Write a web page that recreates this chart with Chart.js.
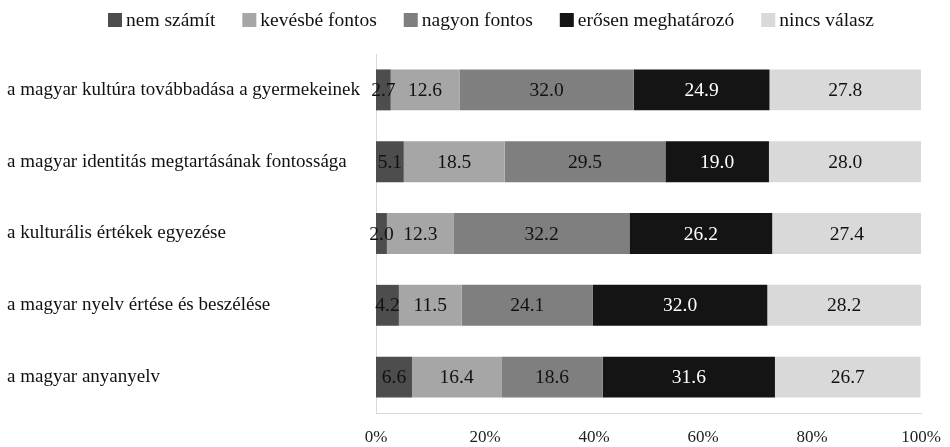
<!DOCTYPE html>
<html>
<head>
<meta charset="utf-8">
<script src="https://cdn.jsdelivr.net/npm/chart.js@4/dist/chart.umd.min.js"></script>
<style>
  html, body { margin: 0; padding: 0; background: #ffffff; }
  #wrap { width: 950px; height: 447px; position: relative; }
</style>
</head>
<body>
<div id="wrap"><canvas id="chart"></canvas></div>
<script>
const categories = [
  'a magyar kultúra továbbadása a gyermekeinek',
  'a magyar identitás megtartásának fontossága',
  'a kulturális értékek egyezése',
  'a magyar nyelv értése és beszélése',
  'a magyar anyanyelv'
];
const seriesNames = ['nem számít', 'kevésbé fontos', 'nagyon fontos', 'erősen meghatározó', 'nincs válasz'];
const nemSzamit = [2.7, 5.1, 2.0, 4.2, 6.6];
const kevesbeFontos = [12.6, 18.5, 12.3, 11.5, 16.4];
const nagyonFontos = [32.0, 29.5, 32.2, 24.1, 18.6];
const erosenMeghatarozo = [24.9, 19.0, 26.2, 32.0, 31.6];
const nincsValasz = [27.8, 28.0, 27.4, 28.2, 26.7];
const xTicks = [0, 20, 40, 60, 80, 100];

const colors = ['#4d4d4d', '#a6a6a6', '#7f7f7f', '#141414', '#d9d9d9'];
const labelColors = ['#111111', '#111111', '#111111', '#ffffff', '#111111'];
const serif = '"Liberation Serif", "DejaVu Serif", serif';

const seriesValues = [nemSzamit, kevesbeFontos, nagyonFontos, erosenMeghatarozo, nincsValasz];

// values written in the middle of each segment
const segmentLabels = {
  id: 'segmentLabels',
  afterDatasetsDraw(chart) {
    const ctx = chart.ctx;
    ctx.save();
    ctx.font = '19.5px ' + serif;
    ctx.textAlign = 'center';
    ctx.textBaseline = 'middle';
    chart.data.datasets.forEach((ds, i) => {
      const meta = chart.getDatasetMeta(i);
      meta.data.forEach((bar, j) => {
        const p = bar.getProps(['x', 'y', 'base'], true);
        ctx.fillStyle = labelColors[i];
        ctx.fillText(ds.data[j].toFixed(1), (p.x + p.base) / 2, p.y + 1);
      });
    });
    ctx.restore();
  }
};

// legend row across the top
const topLegend = {
  id: 'topLegend',
  afterDraw(chart) {
    const ctx = chart.ctx;
    const box = 14, gap = 4, itemGap = 27, cy = 20;
    ctx.save();
    ctx.font = '19.5px ' + serif;
    ctx.textBaseline = 'middle';
    const items = chart.data.datasets.map(ds => ({
      text: ds.label,
      color: ds.backgroundColor,
      w: ctx.measureText(ds.label).width
    }));
    const total = items.reduce((s, it) => s + box + gap + it.w, 0) + itemGap * (items.length - 1);
    let x = 491 - total / 2;
    items.forEach(it => {
      ctx.fillStyle = it.color;
      ctx.fillRect(x, cy - box / 2, box, box);
      ctx.fillStyle = '#111111';
      ctx.fillText(it.text, x + box + gap, cy + 1);
      x += box + gap + it.w + itemGap;
    });
    ctx.restore();
  }
};

new Chart(document.getElementById('chart'), {
  type: 'bar',
  data: {
    labels: categories,
    datasets: seriesNames.map((name, i) => ({
      label: name,
      data: seriesValues[i],
      backgroundColor: colors[i],
      borderWidth: 0,
      barPercentage: 0.57,
      categoryPercentage: 1
    }))
  },
  options: {
    indexAxis: 'y',
    responsive: true,
    maintainAspectRatio: false,
    animation: false,
    layout: { padding: { top: 54, left: 7, right: 29, bottom: 0 } },
    plugins: {
      legend: { display: false },
      tooltip: { enabled: false }
    },
    scales: {
      x: {
        stacked: true,
        min: 0,
        max: 100,
        afterBuildTicks(scale) {
          scale.ticks = xTicks.map(v => ({ value: v }));
        },
        afterFit(scale) {
          scale.height = 34;
          scale.paddingLeft = 0;
          scale.paddingRight = 0;
        },
        grid: { display: false, drawTicks: false },
        border: { display: true, color: '#d9d9d9', width: 1 },
        ticks: {
          padding: 14,
          color: '#222222',
          font: { family: serif, size: 17 },
          callback: v => v + '%'
        }
      },
      y: {
        stacked: true,
        afterFit(scale) { scale.width = 369; },
        grid: { display: false, drawTicks: false },
        border: { display: true, color: '#d9d9d9', width: 1 },
        ticks: {
          crossAlign: 'far',
          color: '#111111',
          font: { family: serif, size: 19 }
        }
      }
    }
  },
  plugins: [segmentLabels, topLegend]
});
</script>
</body>
</html>
